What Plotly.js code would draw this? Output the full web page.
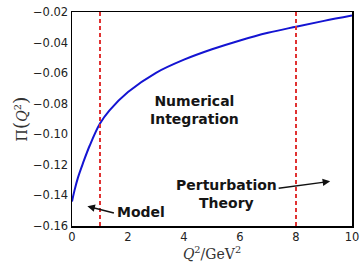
<!DOCTYPE html>
<html><head><meta charset="utf-8">
<script src="https://cdn.plot.ly/plotly-3.0.1.min.js"></script>
<style>html,body{margin:0;padding:0;background:#fff}#plot{width:363px;height:267px}</style>
</head><body><div id="plot"></div>
<script>
const q2 = [0, 0.09, 0.21, 0.39, 0.63, 1, 1.34, 2, 3, 4, 5, 6, 7, 8, 9, 10];
const pi = [-0.144, -0.1367, -0.1285, -0.119, -0.1075, -0.093, -0.0844, -0.0724, -0.0598, -0.0512, -0.0444, -0.0386, -0.0336, -0.0296, -0.0258, -0.0223];
const cutLow = 1;
const cutHigh = 8;
const yRange = [-0.16, -0.02];
const xRange = [0, 10];
const yTicks = [-0.16, -0.14, -0.12, -0.10, -0.08, -0.06, -0.04, -0.02];
const yTickText = ["\u22120.16", "\u22120.14", "\u22120.12", "\u22120.10", "\u22120.08", "\u22120.06", "\u22120.04", "\u22120.02"];
const xTicks = [0, 2, 4, 6, 8, 10];

const traces = [
  {x: q2, y: pi, mode: 'lines', line: {color: '#1414d2', width: 2, shape: 'spline', smoothing: 1}, hoverinfo: 'skip'},
  {x: [cutLow, cutLow], y: yRange, mode: 'lines', line: {color: '#e03232', width: 2, dash: '4px,3px'}},
  {x: [cutHigh, cutHigh], y: yRange, mode: 'lines', line: {color: '#e03232', width: 2, dash: '4px,3px'}}
];

const tf = {family: 'DejaVu Sans', size: 14, color: '#151515', weight: 'bold'};
const layout = {
  width: 363, height: 267,
  margin: {l: 72, r: 11, t: 12, b: 41},
  showlegend: false,
  paper_bgcolor: '#fff', plot_bgcolor: '#fff',
  xaxis: {range: xRange, tickvals: xTicks, showgrid: false, zeroline: false,
    showline: true, mirror: true, linecolor: '#000', linewidth: 1.5, ticks: '',
    tickfont: {family: 'DejaVu Sans', size: 11.5, color: '#222'},
    title: {text: '<i>Q</i><sup>2</sup>/GeV<sup>2</sup>', font: {family: 'DejaVu Serif', size: 14, color: '#333'}, standoff: 6}},
  yaxis: {range: yRange, tickvals: yTicks, ticktext: yTickText, showgrid: false, zeroline: false,
    showline: true, mirror: true, linecolor: '#000', linewidth: 1.5, ticks: '',
    tickfont: {family: 'DejaVu Sans', size: 11.5, color: '#222'},
    title: {text: '\u03a0<span style="font-size:19px">(</span><i>Q</i><sup>2</sup><span style="font-size:19px">)</span>', font: {family: 'DejaVu Serif', size: 14, color: '#333'}, standoff: 2}},
  annotations: [
    {x: 4.39, y: -0.0841, xref: 'x', yref: 'y', text: 'Numerical<br>Integration', showarrow: false, font: tf, align: 'center'},
    {x: 5.5, y: -0.1389, xref: 'x', yref: 'y', text: 'Perturbation<br>Theory', showarrow: false, font: tf, align: 'center'},
    {x: 2.46, y: -0.1506, xref: 'x', yref: 'y', text: 'Model', showarrow: false, font: tf},
    {x: 9.22, y: -0.1308, xref: 'x', yref: 'y', text: '', showarrow: true, ax: -53, ay: 7, arrowhead: 2, arrowsize: 1, arrowwidth: 1.5, arrowcolor: '#111'},
    {x: 0.55, y: -0.1471, xref: 'x', yref: 'y', text: '', showarrow: true, ax: 28, ay: 7, arrowhead: 2, arrowsize: 1, arrowwidth: 1.5, arrowcolor: '#111'}
  ]
};
Plotly.newPlot('plot', traces, layout, {displayModeBar: false, staticPlot: true});
</script></body></html>
